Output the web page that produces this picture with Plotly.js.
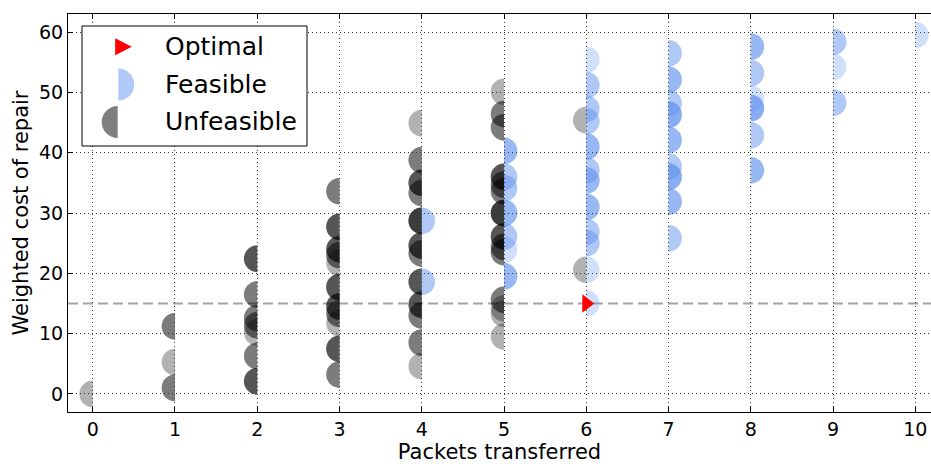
<!DOCTYPE html>
<html><head><meta charset="utf-8">
<script src="https://cdn.plot.ly/plotly-3.0.1.min.js"></script>
<style>body{margin:0;background:#fff}</style>
</head><body><div id="chart" style="width:931px;height:464px"></div>
<script>
// ---- data ----
const xTicks = [0, 1, 2, 3, 4, 5, 6, 7, 8, 9, 10];
const yTicks = [0, 10, 20, 30, 40, 50, 60];

// Unfeasible solutions (count = how many solutions share that spot)
const unfeasibleX = [0,
  1, 1, 1,
  2, 2, 2, 2, 2, 2, 2,
  3, 3, 3, 3, 3, 3, 3, 3, 3, 3, 3,
  4, 4, 4, 4, 4, 4, 4, 4, 4, 4, 4, 4,
  5, 5, 5, 5, 5, 5, 5, 5, 5, 5, 5, 5, 5, 5,
  6, 6];
const unfeasibleY = [0,
  11.2, 5.3, 1.0,
  22.4, 16.5, 12.6, 11.4, 10.2, 6.3, 2.1,
  33.6, 27.7, 24.0, 23.0, 21.7, 17.7, 14.5, 13.3, 11.7, 7.5, 3.2,
  44.9, 38.8, 35.0, 33.3, 28.7, 24.6, 23.3, 18.6, 14.8, 13.0, 8.5, 4.6,
  50.1, 46.4, 44.2, 36.0, 34.7, 33.6, 30.0, 26.1, 24.4, 23.5, 15.6, 14.2, 13.3, 9.5,
  45.4, 20.6];
const unfeasibleCount = [1,
  2, 1, 2,
  3, 2, 2, 2, 1, 2, 3,
  2, 3, 3, 2, 1, 3, 3, 2, 1, 3, 2,
  1, 2, 3, 2, 4, 3, 2, 3, 3, 2, 2, 1,
  1, 2, 2, 3, 2, 2, 4, 3, 2, 2, 2, 1, 1, 1,
  1, 1];

// Feasible solutions
const feasibleX = [4, 4,
  5, 5, 5, 5, 5, 5, 5,
  6, 6, 6, 6, 6, 6, 6, 6, 6, 6, 6, 6,
  7, 7, 7, 7, 7, 7, 7, 7, 7,
  8, 8, 8, 8, 8, 8,
  9, 9, 9,
  10];
const feasibleY = [28.7, 18.6,
  40.3, 36.0, 34.1, 30.0, 26.1, 23.9, 19.5,
  55.4, 51.2, 47.3, 45.2, 41.0, 37.1, 35.4, 31.0, 26.9, 25.0, 20.6, 15.0,
  56.5, 52.1, 48.2, 46.3, 42.1, 37.7, 36.0, 31.9, 25.8,
  57.6, 53.2, 49.0, 47.4, 42.9, 37.1,
  58.4, 54.2, 48.3,
  59.5];
const feasibleCount = [2, 2,
  3, 2, 2, 3, 2, 1, 3,
  1, 2, 2, 2, 3, 2, 3, 3, 2, 2, 1, 1,
  2, 3, 2, 4, 3, 2, 4, 3, 2,
  3, 2, 1, 4, 2, 3,
  2, 1, 2,
  1];

// Optimal solution and its cost level
const optimalX = [6];
const optimalY = [15];
const optimalCost = 15;

const legendLabels = ['Optimal', 'Feasible', 'Unfeasible'];

// ---- drawing ----
const FONT = 'DejaVu Sans, Verdana, sans-serif';
const R = 13.3;      // marker radius in px
const UNF_COLOR = 'rgba(0,0,0,0.3)';
const FEA_COLOR = 'rgba(100,149,237,0.3)';

function halfPath(r, side) {
  const k = 0.5523 * r, s = side;
  return `M0,${r} C${s*k},${r} ${s*r},${k} ${s*r},0 C${s*r},${-k} ${s*k},${-r} 0,${-r} Z`;
}

const shapes = [];
function addHalves(xs, ys, counts, side, color) {
  for (let i = 0; i < xs.length; i++) {
    for (let c = 0; c < counts[i]; c++) {
      shapes.push({
        type: 'path', xref: 'x', yref: 'y',
        xsizemode: 'pixel', ysizemode: 'pixel',
        xanchor: xs[i], yanchor: ys[i],
        path: halfPath(R, side),
        fillcolor: color, line: {width: 0}, layer: 'below'
      });
    }
  }
}
addHalves(unfeasibleX, unfeasibleY, unfeasibleCount, -1, UNF_COLOR);
addHalves(feasibleX, feasibleY, feasibleCount, 1, FEA_COLOR);

// dashed line at optimal cost
shapes.push({type: 'line', xref: 'paper', x0: 0, x1: 1, yref: 'y', y0: optimalCost, y1: optimalCost,
  line: {color: '#a3a3a3', width: 2, dash: '10px,5px'}, layer: 'below'});

// manual legend (pixel geometry converted to paper)
const L = 68, T = 14, W = 863, H = 398;
const px = v => (v - L) / W;
const py = v => (T + H - v) / H;
shapes.push({type: 'rect', xref: 'paper', yref: 'paper', x0: px(82), x1: px(307), y0: py(146), y1: py(26),
  fillcolor: '#fff', line: {color: '#000', width: 1}, layer: 'above'});
shapes.push({type: 'path', xref: 'paper', yref: 'paper', xsizemode: 'pixel', ysizemode: 'pixel',
  xanchor: px(123.5), yanchor: py(46.7), path: 'M-8.3,8.5 L8.3,0 L-8.3,-8.5 Z',
  fillcolor: '#ff0000', line: {width: 0}, layer: 'above'});
shapes.push({type: 'path', xref: 'paper', yref: 'paper', xsizemode: 'pixel', ysizemode: 'pixel',
  xanchor: px(118.3), yanchor: py(84.5), path: halfPath(16, 1),
  fillcolor: 'rgba(100,149,237,0.51)', line: {width: 0}, layer: 'above'});
shapes.push({type: 'path', xref: 'paper', yref: 'paper', xsizemode: 'pixel', ysizemode: 'pixel',
  xanchor: px(117.7), yanchor: py(122), path: halfPath(16, -1),
  fillcolor: 'rgba(0,0,0,0.5)', line: {width: 0}, layer: 'above'});

const legendY = [46.7, 84, 121.7];
const annotations = legendLabels.map((t, i) => ({
  text: t, xref: 'paper', yref: 'paper', x: px(163), y: py(legendY[i]),
  xanchor: 'left', yanchor: 'middle', showarrow: false,
  font: {family: FONT, size: 25, color: '#000'}
}));

const traces = [
  {x: unfeasibleX, y: unfeasibleY, type: 'scatter', mode: 'markers', name: 'Unfeasible',
   marker: {opacity: 0, size: 20}, showlegend: false, hoverinfo: 'x+y+name'},
  {x: feasibleX, y: feasibleY, type: 'scatter', mode: 'markers', name: 'Feasible',
   marker: {opacity: 0, size: 20}, showlegend: false, hoverinfo: 'x+y+name'},
  {x: optimalX, y: optimalY, type: 'scatter', mode: 'markers', name: 'Optimal',
   marker: {symbol: 'triangle-right', size: 16, color: '#ff0000', line: {width: 0}},
   showlegend: false}
];

const layout = {
  width: 931, height: 464,
  margin: {l: L, r: 0, t: T, b: 52},
  paper_bgcolor: '#fff', plot_bgcolor: '#fff',
  showlegend: false,
  font: {family: FONT, color: '#000'},
  xaxis: {
    range: [-0.3, 10.19], tickvals: xTicks, ticktext: xTicks.map(String),
    ticks: 'inside', ticklen: 5, tickwidth: 1, tickcolor: '#000',
    showline: true, linecolor: '#000', linewidth: 1, mirror: 'ticks',
    showgrid: true, gridcolor: '#333', gridwidth: 1, griddash: '1px,3px',
    zeroline: false, tickfont: {family: FONT, size: 19, color: '#000'},
    title: {text: 'Packets transferred', font: {family: FONT, size: 21, color: '#000'}, standoff: 5},
    automargin: false
  },
  yaxis: {
    range: [-3, 63], tickvals: yTicks, ticktext: yTicks.map(String),
    ticks: 'inside', ticklen: 5, tickwidth: 1, tickcolor: '#000',
    showline: true, linecolor: '#000', linewidth: 1, mirror: false,
    showgrid: true, gridcolor: '#333', gridwidth: 1, griddash: '1px,3px',
    zeroline: false, tickfont: {family: FONT, size: 19, color: '#000'},
    title: {text: 'Weighted cost of repair', font: {family: FONT, size: 21, color: '#000'}, standoff: 4},
    automargin: false
  },
  shapes: shapes,
  annotations: annotations
};

Plotly.newPlot('chart', traces, layout, {displayModeBar: false, staticPlot: true});
</script>
</body></html>
